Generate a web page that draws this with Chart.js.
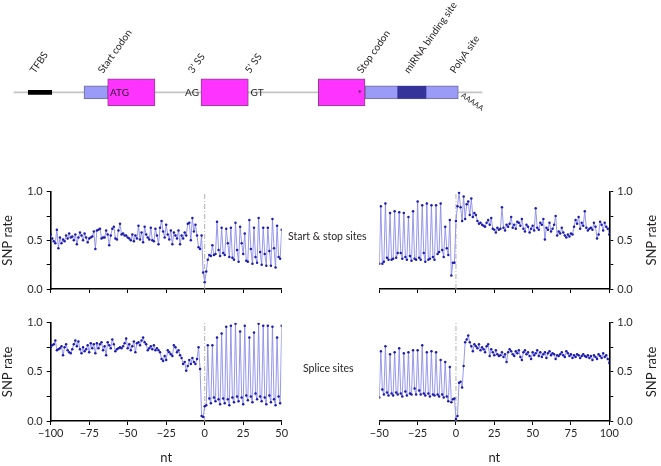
<!DOCTYPE html>
<html><head><meta charset="utf-8">
<script src="https://cdn.jsdelivr.net/npm/chart.js@4.4.1/dist/chart.umd.min.js"></script>
<style>
html,body{margin:0;padding:0;background:#fff;}
#wrap{position:relative;width:661px;height:466px;overflow:hidden;background:#fff;}
#wrap canvas{position:absolute;left:0;top:0;}
</style></head><body>
<div id="wrap">
<canvas id="gene" width="661" height="466"></canvas>
<canvas id="tl" width="661" height="466"></canvas>
<canvas id="tr" width="661" height="466"></canvas>
<canvas id="bl" width="661" height="466"></canvas>
<canvas id="br" width="661" height="466"></canvas>
</div>
<script>
// ---------------- DATA ----------------
// Gene schematic (schematic units along the transcript)
const featureNames = ['backbone','TFBS','5UTR','exon1','exon2','exon3','3UTR','miRNA'];
const featureStart = [14, 28.3, 84, 107.7, 201, 318.3, 365, 397.7];
const featureEnd   = [482, 51.7, 108, 155, 248.3, 365, 458.3, 426];
const siteLabels = ['TFBS','Start codon','3\u2019 SS','5\u2019 SS','Stop codon','miRNA binding site','PolyA site'];
const siteLabelPos = [35, 103, 193, 250, 362, 409, 455];
const seqLabels = ['ATG','AG','GT','*'];
const seqLabelPos = [110, 199, 250.5, 360];

// x ranges (nt)
const leftRange = [-100, 50];
const rightRange = [-50, 100];
const xTickStep = 25;
const yTicks = [0, 0.25, 0.5, 0.75, 1.0];

// Start codon region (-100..50)
const startSNP = [
0.56,0.52,0.49,0.47,0.61,0.42,0.53,0.47,0.51,0.49,
0.55,0.52,0.57,0.53,0.54,0.50,0.56,0.46,0.53,0.58,
0.55,0.50,0.57,0.53,0.48,0.52,0.53,0.54,0.59,0.41,
0.60,0.61,0.62,0.52,0.53,0.53,0.60,0.56,0.45,0.55,
0.62,0.64,0.52,0.51,0.60,0.67,0.56,0.57,0.55,0.55,
0.53,0.52,0.50,0.56,0.49,0.55,0.52,0.65,0.51,0.58,
0.48,0.64,0.56,0.53,0.51,0.63,0.50,0.49,0.62,0.55,
0.46,0.63,0.70,0.59,0.53,0.66,0.56,0.51,0.60,0.46,
0.58,0.55,0.52,0.60,0.46,0.55,0.52,0.58,0.55,0.67,
0.68,0.50,0.73,0.59,0.66,0.55,0.43,0.41,0.55,0.17,
0.07,
0.18,0.30,0.35,0.34,0.45,0.35,0.36,0.69,0.40,0.34,
0.63,0.37,0.35,0.62,0.47,0.33,0.63,0.32,0.30,0.68,
0.40,0.28,0.64,0.47,0.36,0.57,0.29,0.28,0.71,0.41,
0.26,0.63,0.33,0.27,0.73,0.38,0.25,0.63,0.36,0.24,
0.63,0.39,0.24,0.72,0.42,0.22,0.65,0.33,0.31,0.61];

// Stop codon region (-50..100)
const stopSNP = [
0.26,0.85,0.26,0.28,0.88,0.32,0.30,0.78,0.30,0.31,
0.80,0.32,0.37,0.79,0.37,0.31,0.78,0.33,0.30,0.74,
0.34,0.29,0.80,0.31,0.30,0.90,0.32,0.30,0.86,0.37,
0.28,0.88,0.30,0.31,0.86,0.33,0.30,0.86,0.36,0.38,
0.88,0.40,0.33,0.64,0.42,0.35,0.71,0.14,0.27,0.27,
0.70,
0.85,0.99,0.84,0.70,0.95,0.72,0.87,0.90,0.76,0.93,
0.74,0.78,0.76,0.70,0.67,0.68,0.66,0.65,0.64,0.68,
0.71,0.66,0.73,0.62,0.61,0.58,0.63,0.61,0.62,0.84,
0.63,0.60,0.66,0.64,0.67,0.74,0.63,0.66,0.62,0.69,
0.68,0.65,0.72,0.62,0.59,0.66,0.64,0.58,0.62,0.65,
0.60,0.83,0.63,0.61,0.68,0.66,0.72,0.51,0.63,0.61,
0.68,0.59,0.62,0.66,0.75,0.55,0.59,0.57,0.63,0.58,
0.55,0.53,0.56,0.54,0.57,0.56,0.64,0.71,0.67,0.74,
0.62,0.68,0.65,0.80,0.63,0.60,0.62,0.63,0.61,0.68,
0.64,0.52,0.56,0.69,0.66,0.60,0.68,0.64,0.62,0.56];

// 3' splice site region (-100..50)
const ss3SNP = [
0.75,0.77,0.78,0.82,0.72,0.73,0.74,0.76,0.67,0.75,
0.78,0.72,0.70,0.69,0.73,0.78,0.82,0.76,0.81,0.73,
0.69,0.75,0.71,0.73,0.77,0.70,0.79,0.74,0.78,0.69,
0.79,0.74,0.78,0.80,0.72,0.76,0.67,0.80,0.77,0.74,
0.83,0.78,0.71,0.73,0.74,0.75,0.74,0.76,0.79,0.84,
0.74,0.78,0.72,0.76,0.81,0.70,0.79,0.80,0.77,0.82,
0.85,0.80,0.78,0.72,0.74,0.76,0.73,0.77,0.72,0.74,
0.72,0.70,0.63,0.61,0.66,0.62,0.72,0.70,0.68,0.66,
0.77,0.75,0.70,0.72,0.67,0.64,0.58,0.60,0.51,0.56,
0.62,0.58,0.64,0.60,0.58,0.63,0.75,0.53,0.05,0.04,
0.15,
0.16,0.77,0.23,0.18,0.77,0.24,0.20,0.85,0.22,0.17,
0.89,0.23,0.18,0.96,0.22,0.16,0.97,0.24,0.19,0.99,
0.25,0.20,0.91,0.24,0.17,0.97,0.26,0.21,0.85,0.25,
0.19,0.90,0.28,0.22,0.99,0.25,0.20,0.97,0.24,0.17,
0.97,0.26,0.19,0.96,0.22,0.16,0.85,0.25,0.18,0.97];

// 5' splice site region (-50..100)
const ss5SNP = [
0.24,0.71,0.32,0.27,0.76,0.29,0.26,0.68,0.28,0.26,
0.70,0.29,0.27,0.74,0.28,0.25,0.69,0.30,0.26,0.70,
0.28,0.27,0.72,0.33,0.27,0.72,0.31,0.27,0.77,0.28,
0.26,0.70,0.28,0.25,0.71,0.27,0.26,0.70,0.27,0.25,
0.62,0.27,0.24,0.60,0.25,0.20,0.55,0.19,0.22,0.23,
0.02,
0.05,0.39,0.40,0.34,0.56,0.80,0.83,0.87,0.80,0.76,
0.71,0.78,0.76,0.74,0.78,0.72,0.75,0.73,0.70,0.76,
0.78,0.66,0.73,0.70,0.67,0.72,0.68,0.66,0.67,0.70,
0.65,0.68,0.60,0.70,0.73,0.71,0.68,0.66,0.71,0.69,
0.72,0.65,0.62,0.70,0.72,0.68,0.70,0.66,0.63,0.70,
0.67,0.69,0.72,0.66,0.70,0.65,0.68,0.70,0.64,0.69,
0.71,0.67,0.69,0.68,0.63,0.67,0.66,0.68,0.70,0.67,
0.65,0.71,0.69,0.66,0.68,0.64,0.67,0.65,0.68,0.67,
0.64,0.66,0.68,0.66,0.65,0.67,0.64,0.66,0.62,0.67,
0.65,0.63,0.68,0.66,0.64,0.69,0.65,0.67,0.63,0.59];

// ---------------- STYLE ----------------
const FONT = 'Lato, "Noto Sans", sans-serif';
const TXT = '#231f20';
const LINE_COLOR = 'rgba(140,140,235,0.9)';
const PT_COLOR = '#1c1cb0';

function fmtX(v){ return v < 0 ? '\u2212' + Math.abs(v) : String(v); }
function fmtY(v){ return Math.abs(v*2 - Math.round(v*2)) < 1e-6 ? v.toFixed(1) : ''; }

const textPlugin = {
  id: 'extraText',
  afterDraw(chart, args, opts) {
    const ctx = chart.ctx;
    (opts.items || []).forEach(it => {
      ctx.save();
      ctx.font = it.font;
      ctx.fillStyle = it.color || TXT;
      ctx.textAlign = it.align || 'left';
      ctx.textBaseline = it.baseline || 'middle';
      const x = typeof it.x === 'function' ? it.x(chart) : it.x;
      const y = typeof it.y === 'function' ? it.y(chart) : it.y;
      ctx.translate(x, y);
      if (it.rot) ctx.rotate(it.rot);
      ctx.fillText(it.text, 0, 0);
      ctx.restore();
    });
  }
};

function panel(id, c) {
  const pts = c.values.map((v, i) => ({x: c.range[0] + i, y: v}));
  const isLeft = c.yPos === 'left';
  return new Chart(document.getElementById(id), {
    type: 'line',
    data: { datasets: [
      { data: pts, borderColor: LINE_COLOR, borderWidth: 1, tension: 0,
        pointRadius: 1.25, pointBackgroundColor: PT_COLOR, pointBorderWidth: 0, order: 1 },
      { data: [{x:0,y:0},{x:0,y:1}], borderColor: '#b0b0b0', borderWidth: 1,
        borderDash: [5,2,1,2], pointRadius: 0, order: 2 }
    ]},
    options: {
      responsive: false, animation: false, events: [],
      layout: { padding: c.padding },
      plugins: { legend: {display:false}, tooltip: {enabled:false}, extraText: {items: c.texts || []} },
      scales: {
        x: {
          type: 'linear', min: c.range[0], max: c.range[1],
          afterBuildTicks(s){ const t=[]; for (let v=c.range[0]; v<=c.range[1]; v+=xTickStep) t.push({value:v}); s.ticks=t; },
          ticks: { autoSkip:false, maxRotation:0, padding: 2, color: TXT,
                   font: {family: FONT, size: 11}, callback: c.xLabels ? fmtX : () => '' },
          grid: { drawOnChartArea:false, color:'#000', tickLength:4, lineWidth:1 },
          border: { color:'#000', width:1.6 },
          title: { display: !!c.xLabels, text: 'nt', color: TXT, font:{family:FONT,size:13}, padding:{top:0,bottom:0} },
          afterFit(s){ s.height = c.xH; s.paddingLeft = 0; s.paddingRight = 0; }
        },
        y: {
          position: c.yPos, min: 0, max: 1,
          afterBuildTicks(s){ s.ticks = yTicks.map(v => ({value:v})); },
          ticks: { autoSkip:false, padding: 4, color: TXT, font:{family: FONT, size: 11}, callback: fmtY },
          grid: { drawOnChartArea:false, color:'#000', tickLength:4, lineWidth:1 },
          border: { color:'#000', width:1.6 },
          title: { display: isLeft, text: 'SNP rate', color: TXT, font:{family:FONT,size:13}, padding:{top:0,bottom:0} },
          afterFit(s){ s.width = c.yW; s.paddingTop = 0; s.paddingBottom = 0; }
        }
      }
    },
    plugins: [textPlugin]
  });
}

const rightTitle = (yc) => ({ text:'SNP rate', font:'13px '+FONT, align:'center', baseline:'middle',
  x: 651.5, y: yc, rot: -Math.PI/2 });

panel('tl', { values: startSNP, range: leftRange, yPos:'left', yW: 50.7, xH: 10, xLabels:false,
  padding: {left:0, top:191.7, right:661-281.7, bottom:466-289-10},
  texts: [
    { text:'Start & stop sites', font:'10.5px '+FONT, x: 288, y: 237 },
    { text:'Splice sites', font:'10.5px '+FONT, x: 303, y: 368.5 }
  ]});
panel('tr', { values: stopSNP, range: rightRange, yPos:'right', yW: 51.7, xH: 10, xLabels:false,
  padding: {left:379.3, top:191.7, right:0, bottom:466-289-10},
  texts: [ rightTitle(240.3) ]});
panel('bl', { values: ss3SNP, range: leftRange, yPos:'left', yW: 50.7, xH: 45, xLabels:true,
  padding: {left:0, top:322.7, right:661-281.7, bottom:0} });
panel('br', { values: ss5SNP, range: rightRange, yPos:'right', yW: 51.7, xH: 45, xLabels:true,
  padding: {left:379.3, top:322.7, right:0, bottom:0},
  texts: [ rightTitle(371.9) ]});

// ---------------- GENE SCHEMATIC ----------------
const featStyle = {
  backbone: {bg:'#c4c4c4', bd:'#c4c4c4', bw:0, t:1, order:10},
  TFBS:     {bg:'#000000', bd:'#000', bw:0, t:4, order:5},
  '5UTR':   {bg:'#9a9af8', bd:'#6e6e8e', bw:1, t:13, order:4},
  exon1:    {bg:'#ff33ff', bd:'#8a3f8a', bw:1, t:27, order:3},
  exon2:    {bg:'#ff33ff', bd:'#8a3f8a', bw:1, t:27, order:3},
  exon3:    {bg:'#ff33ff', bd:'#8a3f8a', bw:1, t:27, order:3},
  '3UTR':   {bg:'#9a9af8', bd:'#6e6e8e', bw:1, t:13, order:4},
  miRNA:    {bg:'#333399', bd:'#333399', bw:0, t:12, order:2}
};
const geneTexts = [];
siteLabels.forEach((s, i) => geneTexts.push({ text: s, font:'10px '+FONT, baseline:'alphabetic',
  x: ch => ch.scales.x.getPixelForValue(siteLabelPos[i]), y: 74, rot: -55*Math.PI/180 }));
seqLabels.forEach((s, i) => geneTexts.push({ text: s, font:'10px '+FONT, baseline:'middle',
  align: s === 'AG' ? 'right' : (s === '*' ? 'center' : 'left'),
  x: ch => ch.scales.x.getPixelForValue(seqLabelPos[i]), y: s === '*' ? 94 : 92.8 }));
geneTexts.push({ text:'AAAAA', font:'7.5px '+FONT, baseline:'middle',
  x: ch => ch.scales.x.getPixelForValue(462), y: 94.5, rot: 35*Math.PI/180 });

new Chart(document.getElementById('gene'), {
  type: 'bar',
  data: { labels: ['gene'], datasets: featureNames.map((n, i) => {
    const st = featStyle[n];
    return { label: n, data: [[featureStart[i], featureEnd[i]]], backgroundColor: st.bg,
      borderColor: st.bd, borderWidth: st.bw, borderSkipped: false, barThickness: st.t,
      grouped: false, order: st.order };
  })},
  options: {
    indexAxis: 'y', responsive: false, animation: false, events: [],
    layout: { padding: {left:0, right:0, top:72, bottom:466-112.6} },
    plugins: { legend:{display:false}, tooltip:{enabled:false}, extraText: {items: geneTexts} },
    scales: { x: {type:'linear', min:0, max:661, display:false}, y: {display:false} }
  },
  plugins: [textPlugin]
});
</script>
</body></html>
